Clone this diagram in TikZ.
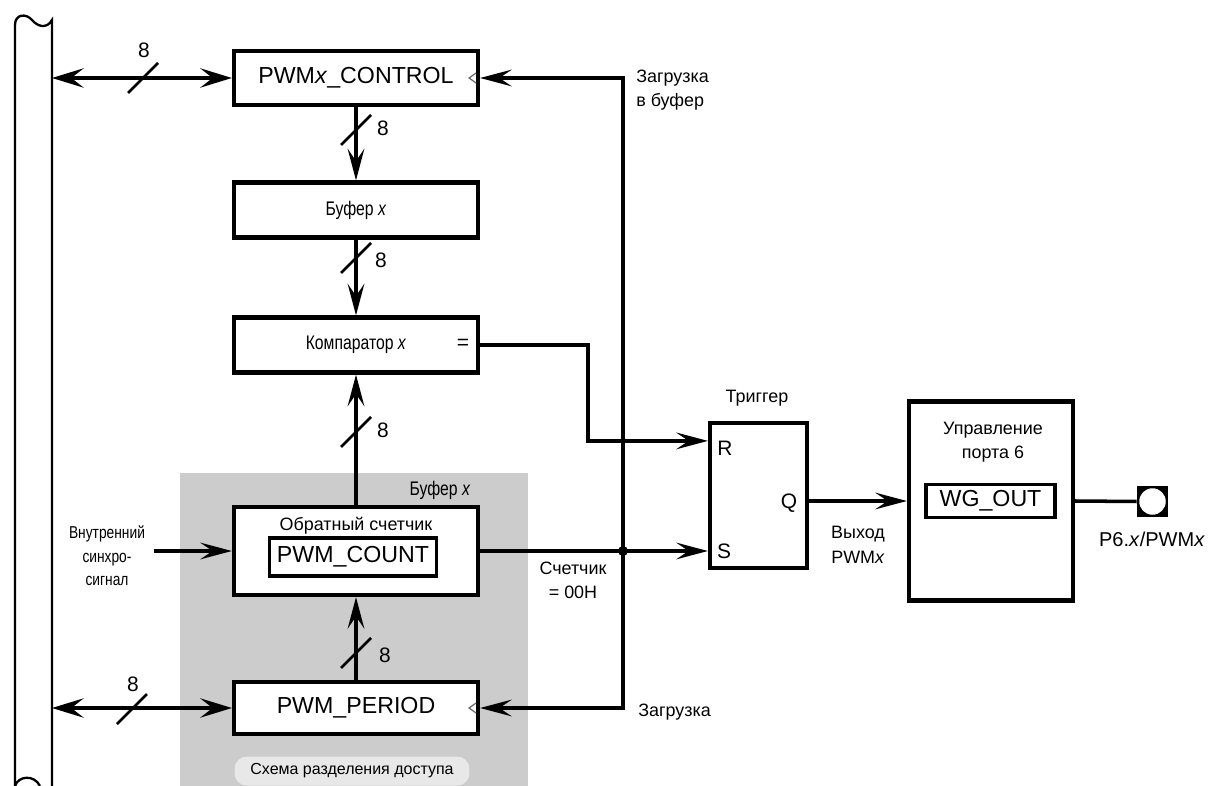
\documentclass[tikz,border=0pt]{standalone}
\usepackage{fontspec}
\setmainfont{Liberation Sans}
\newfontfamily\narrowfont[FakeStretch=0.8]{Liberation Sans}
\definecolor{pwmgray}{RGB}{204,204,204}
\definecolor{pwmpill}{RGB}{232,232,232}
\definecolor{pwmmark}{RGB}{105,105,105}
\usetikzlibrary{arrows.meta,positioning,calc}

\tikzset{
  ar/.style={-{Stealth[length=18pt,width=9.5pt,inset=7pt]}},
  biar/.style={{Stealth[length=18pt,width=11pt,inset=7pt]}-{Stealth[length=18pt,width=11pt,inset=7pt]}},
  blk/.style={draw,line width=2.4pt,fill=white,inner sep=0pt,font=\fontsize{13.2}{15}\selectfont},
  reg/.style={draw,line width=2pt,fill=white,inner sep=0pt,font=\fontsize{13.2}{15}\selectfont},
  sig/.style={line width=2pt},
  bus/.style={line width=1.3pt},
  lbl/.style={font=\fontsize{10.2}{13.6}\selectfont,align=center,inner sep=0pt},
  nlbl/.style={font=\narrowfont\fontsize{11.2}{13.4}\selectfont,align=center,inner sep=0pt},
  num/.style={font=\fontsize{11.9}{13}\selectfont,inner sep=0pt},
  pill/.style={fill=pwmpill,rounded corners=7pt,minimum width=4.7cm,minimum height=0.58cm,
    inner sep=0pt,font=\fontsize{9.1}{11}\selectfont},
  busmark/.pic={\draw[line width=1.5pt] (-15,15) -- (15,-15);},
  ldmark/.pic={\draw[pwmmark,line width=0.7pt] (-4,-5) -- (-11,0) -- (-4,5);}
}

\begin{document}
\begin{tikzpicture}[x=0.02cm,y=-0.02cm]
  \useasboundingbox (0,0) rectangle (1216,786);

  % System bus
  \draw[bus] (15,786) -- (15,25) .. controls (15,14) and (26,13) .. (32,20)
    .. controls (38,27) and (47,29) .. (52,20) -- (52,786);
  \draw[bus] (15,786) .. controls (18,776) and (34,774) .. (40,786);
  \coordinate (busT) at (52,78);
  \coordinate (busB) at (52,708);

  % Shared access area
  \fill[pwmgray] (180,473) rectangle (528,786);
  \node[pill] (pill) at (352,771) {Схема разделения доступа};
  \node[nlbl] (buflbl) at (440,490) {Буфер \textit{x}};

  % Registers
  \node[blk,minimum width=4.88cm,minimum height=1.08cm] (ctrl) at (356,78) {PWM\textit{x}\_CONTROL};
  \node[blk,minimum width=4.88cm,minimum height=1.1cm,font=\narrowfont\fontsize{11.2}{12}\selectfont] (buf) at (356,210) {Буфер \textit{x}};
  \node[blk,minimum width=4.88cm,minimum height=1.1cm,font=\narrowfont\fontsize{11.2}{12}\selectfont] (cmp) at (356,345) {Компаратор \textit{x}};
  \node[num] (eq) at (463,344) {=};
  \node[blk,minimum width=4.88cm,minimum height=1.76cm] (cnt) at (356,551) {};
  \node[lbl] (cntlbl) at (356,526) {Обратный счетчик};
  \node[reg,minimum width=3.34cm,minimum height=0.76cm] (count) at (353,557) {PWM\_COUNT};
  \node[blk,minimum width=4.88cm,minimum height=1.04cm] (per) at (356,708) {PWM\_PERIOD};
  \pic at (ctrl.east) {ldmark};
  \pic at (per.east) {ldmark};

  % Flip-flop and port
  \node[blk,minimum width=1.94cm,minimum height=2.9cm] (trig) at (758.5,495.5) {};
  \node[lbl] (triglbl) at (757,398) {Триггер};
  \node[num] (rin) at (725,448) {R};
  \node[num] (sin) at (724,551) {S};
  \node[num] (qout) at (789,503) {Q};
  \coordinate (trigR) at ($(trig.north west)+(0,20)$);
  \node[blk,minimum width=3.28cm,minimum height=3.98cm] (port) at (991,501) {};
  \node[lbl] (portlbl) at (993,442) {Управление\\порта 6};
  \node[reg,minimum width=2.58cm,minimum height=0.66cm] (wg) at (990.5,501) {WG\_OUT};
  \node[fill=black,minimum size=0.62cm,inner sep=0pt] (pad) at (1152.5,501.5) {};
  \node[circle,fill=white,minimum size=0.53cm,inner sep=0pt] at (pad) {};

  % Connectors
  \draw[sig,biar] (busT) -- (ctrl.west);
  \draw[sig,biar] (busB) -- (per.west);
  \draw[sig,ar] (ctrl.south) -- (buf.north);
  \draw[sig,ar] (buf.south) -- (cmp.north);
  \draw[sig,ar] (cnt.north) -- (cmp.south);
  \draw[sig,ar] (per.north) -- (cnt.south);
  \coordinate (clk) at (154,551);
  \draw[sig,ar] (clk) -- (cnt.west);
  \coordinate (jn) at (623,551);
  \draw[sig,ar] (cnt.east) -- (cnt.east -| trig.west);
  \draw[sig,ar] (jn) |- (ctrl.east);
  \draw[sig,ar] (jn) |- (per.east);
  \fill (jn) circle (5);
  \draw[sig,ar] (cmp.east) -- ++(108,0) |- (trigR);
  \draw[sig,ar] (trig.east |- port.west) -- (port.west);
  \draw[sig] (port.east) -- (pad.west);

  % Bus widths
  \pic at (143,78) {busmark};
  \pic at (132,709) {busmark};
  \pic at (356,130) {busmark};
  \pic at (356,258) {busmark};
  \pic at (356,432) {busmark};
  \pic at (356,653) {busmark};
  \node[num] at (144,50) {8};
  \node[num] at (133,684) {8};
  \node[num] at (383,128) {8};
  \node[num] at (381,260) {8};
  \node[num] at (383,430) {8};
  \node[num] at (385,655) {8};

  % Labels
  \node[lbl,align=left,anchor=west] (ldbuf) at (636,90) {Загрузка\\в буфер};
  \node[lbl,anchor=west] (ld) at (638,712) {Загрузка};
  \node[lbl] (zero) at (573,580) {Счетчик\\= 00H};
  \node[lbl,font=\fontsize{10.2}{14.2}\selectfont] (pwmout) at (858,545) {Выход\\PWM\textit{x}};
  \node[nlbl,font=\narrowfont\fontsize{9.8}{13.4}\selectfont] (clklbl) at (107,556) {Внутренний\\синхро-\\сигнал};
  \node[lbl,font=\fontsize{11.4}{13}\selectfont] (padlbl) at (1152,539) {P6.\textit{x}/PWM\textit{x}};
\end{tikzpicture}
\end{document}
